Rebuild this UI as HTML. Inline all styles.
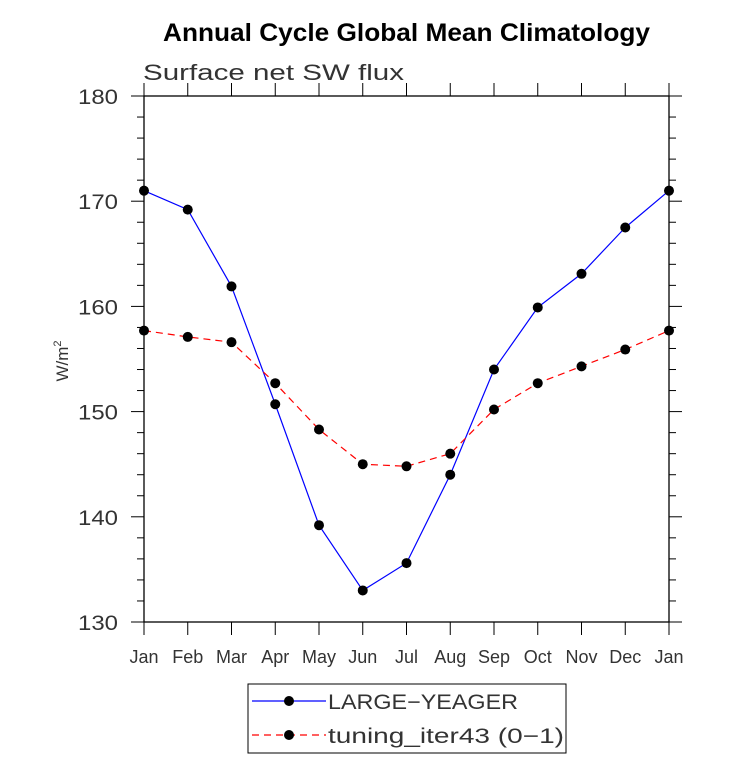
<!DOCTYPE html>
<html><head><meta charset="utf-8"><style>
html,body{margin:0;padding:0;background:#fff;}
svg{display:block;font-family:"Liberation Sans",sans-serif;}
</style></head><body>
<svg id="chart" width="733" height="759">
<text x="163" y="41" font-size="25" font-weight="bold" textLength="487" lengthAdjust="spacingAndGlyphs">Annual Cycle Global Mean Climatology</text>
<text x="143" y="80" font-size="22" fill="#333" textLength="261" lengthAdjust="spacingAndGlyphs">Surface net SW flux</text>
<text transform="translate(68,361) rotate(-90)" text-anchor="middle" font-size="17" fill="#333">W/m<tspan dy="-7" font-size="11">2</tspan></text>
<g id="axes"></g>
<g id="series"></g>
<g>
<rect x="248" y="684" width="318" height="69" fill="#fff" stroke="#000" stroke-width="1"/>
<line x1="252" y1="701" x2="326" y2="701" stroke="#0000ff" stroke-width="1.2"/>
<circle cx="289" cy="701" r="5" fill="#000"/>
<text x="328" y="709" font-size="21" fill="#333" textLength="190" lengthAdjust="spacingAndGlyphs">LARGE−YEAGER</text>
<line x1="252" y1="735" x2="326" y2="735" stroke="#ff0000" stroke-width="1.2" stroke-dasharray="7,5"/>
<circle cx="289" cy="735" r="5" fill="#000"/>
<text x="328" y="743" font-size="21" fill="#333" textLength="236" lengthAdjust="spacingAndGlyphs">tuning_iter43 (0−1)</text>
</g>
</svg>
<script>
const months = ["Jan","Feb","Mar","Apr","May","Jun","Jul","Aug","Sep","Oct","Nov","Dec","Jan"];
const largeYeager = [171.0,169.2,161.9,150.7,139.2,133.0,135.6,144.0,154.0,159.9,163.1,167.5,171.0];
const tuning = [157.7,157.1,156.6,152.7,148.3,145.0,144.8,146.0,150.2,152.7,154.3,155.9,157.7];
const yTicks = [130,140,150,160,170,180];

const X0=144,X1=669,Y0=622,Y1=96,YMIN=130,YMAX=180;
const xs=i=>X0+(X1-X0)*i/(months.length-1);
const ys=v=>Y0-(v-YMIN)/(YMAX-YMIN)*(Y0-Y1);
const NS="http://www.w3.org/2000/svg";
function mk(tag,attrs,parent){const e=document.createElementNS(NS,tag);for(const k in attrs)e.setAttribute(k,attrs[k]);parent.appendChild(e);return e;}
const ax=document.getElementById('axes');
const frame=mk('rect',{x:X0,y:Y1,width:X1-X0,height:Y0-Y1,fill:'none',stroke:'#000','stroke-width':1.3},ax);


for(let v=YMIN;v<=YMAX;v+=2){
  const y=ys(v);const major=(v%10===0);const L=major?13:7;
  mk('line',{x1:X0-L,y1:y,x2:X0,y2:y,stroke:'#000','stroke-width':1},ax);
  mk('line',{x1:X1,y1:y,x2:X1+L,y2:y,stroke:'#000','stroke-width':1},ax);
}
yTicks.forEach(v=>{
  const t=mk('text',{x:X0-26,y:ys(v)+8,'text-anchor':'end','font-size':21,fill:'#333',textLength:40,lengthAdjust:'spacingAndGlyphs'},ax);
  t.textContent=v;
  
  
});
months.forEach((m,i)=>{
  const x=xs(i);
  mk('line',{x1:x,y1:Y0,x2:x,y2:Y0+13,stroke:'#000','stroke-width':1},ax);
  mk('line',{x1:x,y1:Y1-13,x2:x,y2:Y1,stroke:'#000','stroke-width':1},ax);
  const t=mk('text',{x:x,y:Y0+41,'text-anchor':'middle','font-size':18,fill:'#333'},ax);
  t.textContent=m;
  
  
});
const sg=document.getElementById('series');
function drawSeries(vals,color,dash,name){
  const g=mk('g',{},sg);
  
  
  const p=mk('polyline',{points:vals.map((v,i)=>xs(i)+','+ys(v)).join(' '),fill:'none',stroke:color,'stroke-width':1.2,'stroke-dasharray':dash},g);
  
  
  vals.forEach((v,i)=>{
    const c=mk('circle',{cx:xs(i),cy:ys(v),r:5,fill:'#000'},g);
    
    
  });
}
drawSeries(largeYeager,'#0000ff','none','large-yeager-series');
drawSeries(tuning,'#ff0000','7,5','tuning-series');
</script>
</body></html>
